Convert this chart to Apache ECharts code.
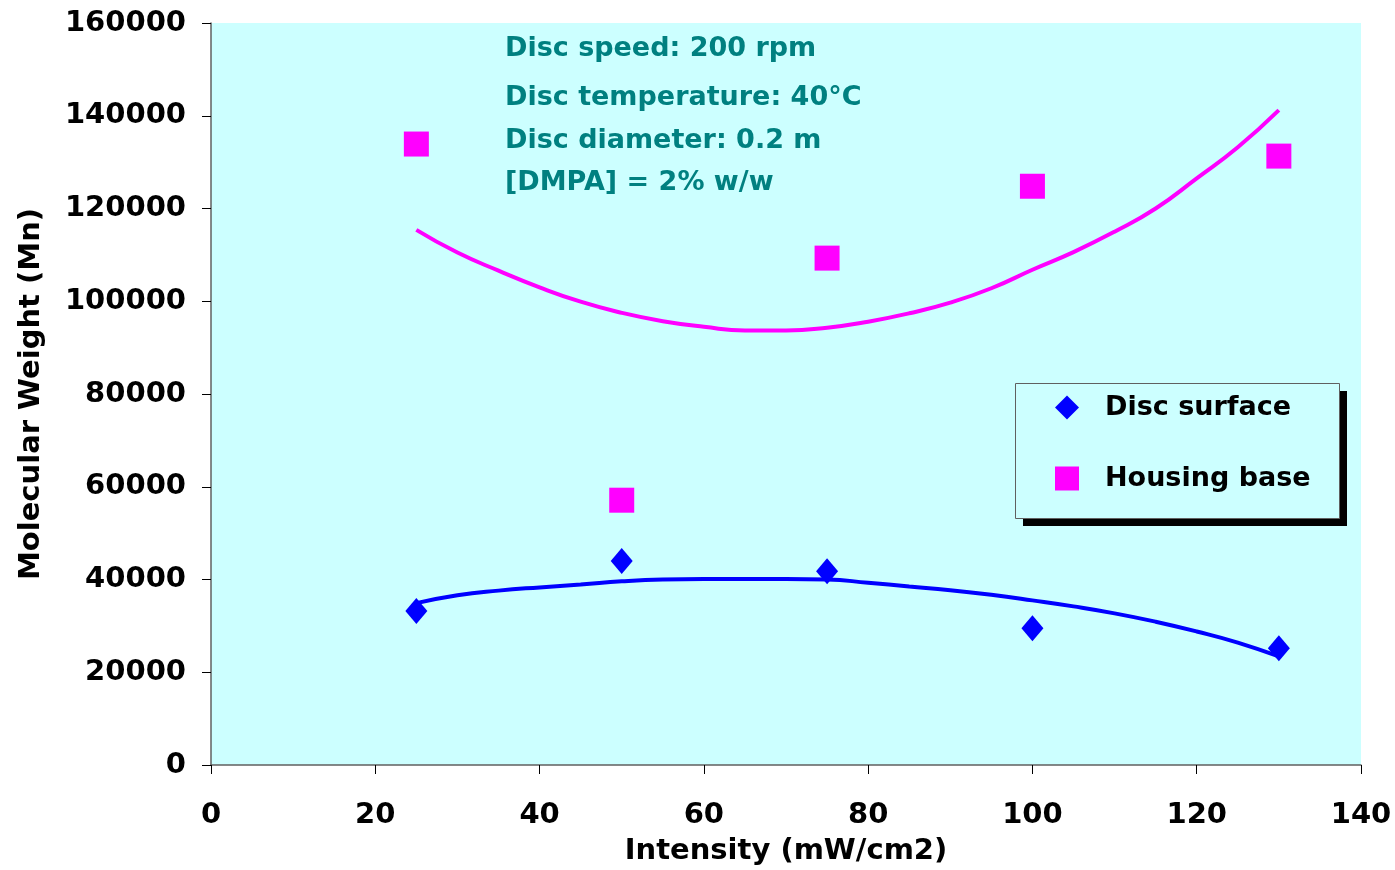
<!DOCTYPE html>
<html><head><meta charset="utf-8">
<script src="https://cdn.jsdelivr.net/npm/echarts@6/dist/echarts.min.js"></script>
<style>html,body{margin:0;padding:0;background:#fff}#c{width:1395px;height:870px}</style>
</head><body><div id="c"></div>
<script>
const intensity = [25, 50, 75, 100, 130];
const discSurface = [33200, 44000, 41800, 29500, 25200];
const housingBase = [133900, 57100, 109300, 124800, 131300];

const trendX = [25,30,35,40,45,50,55,60,65,70,75,80,85,90,95,100,105,110,115,120,125,130];
const discTrend = [34900,36600,37600,38300,38900,39600,40000,40100,40100,40100,40000,39300,38500,37700,36700,35500,34200,32700,30900,28800,26400,23400];
const housingTrend = [115400,110500,106600,103000,99900,97500,95700,94500,93700,93700,94300,95600,97400,99700,102800,106800,110600,115000,120000,126500,133200,141200];

const xTicks = [0,20,40,60,80,100,120,140];
const yTicks = [0,20000,40000,60000,80000,100000,120000,140000,160000];
const notes = ['Disc speed: 200 rpm','Disc temperature: 40\u00B0C','Disc diameter: 0.2 m','[DMPA] = 2% w/w'];

const pair = (xs, ys) => xs.map((x,i)=>[x, ys[i]]);
const font = '"DejaVu Sans", sans-serif';
const chart = echarts.init(document.getElementById('c'));
const noteY = [47, 96, 139, 181];
chart.setOption({
  animation: false,
  backgroundColor: '#fff',
  grid: {left: 211, right: 34, top: 23, bottom: 105, show: true, backgroundColor: '#CCFFFF', borderWidth: 0,
         containLabel: false, outerBoundsMode: 'none'},
  xAxis: {
    type: 'value', min: xTicks[0], max: xTicks[xTicks.length-1], interval: 20,
    name: 'Intensity (mW/cm2)', nameLocation: 'middle', nameGap: 72,
    nameTextStyle: {fontFamily: font, fontWeight: 'bold', fontSize: 29, color: '#000'},
    axisLine: {lineStyle: {color: '#606060', width: 1.5}},
    axisTick: {length: 9, lineStyle: {color: '#000'}},
    axisLabel: {fontFamily: font, fontWeight: 'bold', fontSize: 29, color: '#000', margin: 36,
                formatter: v => String(v)},
    splitLine: {show: false}
  },
  yAxis: {
    type: 'value', min: yTicks[0], max: yTicks[yTicks.length-1], interval: 20000,
    name: 'Molecular Weight (Mn)', nameLocation: 'middle', nameGap: 165,
    nameTextStyle: {fontFamily: font, fontWeight: 'bold', fontSize: 29, color: '#000'},
    axisLine: {show: true, lineStyle: {color: '#606060', width: 1.5}},
    axisTick: {show: true, length: 9, lineStyle: {color: '#000'}},
    axisLabel: {fontFamily: font, fontWeight: 'bold', fontSize: 29, color: '#000', margin: 25,
                formatter: v => String(v)},
    splitLine: {show: false}
  },
  legend: {
    orient: 'vertical', left: 1055, top: 394, z: 20,
    padding: 0, itemGap: 44, itemWidth: 24, itemHeight: 24,
    textStyle: {fontFamily: font, fontWeight: 'bold', fontSize: 27, color: '#000', padding: [0,0,0,21]},
    data: [
      {name: 'Disc surface', icon: 'diamond'},
      {name: 'Housing base', icon: 'rect'}
    ]
  },
  graphic: [
    {type: 'rect', left: 1023, top: 391, z: 10, shape: {width: 324, height: 135}, style: {fill: '#000'}},
    {type: 'rect', left: 1015, top: 383, z: 11, shape: {width: 324, height: 135}, style: {fill: '#CCFFFF', stroke: '#606060', lineWidth: 1}}
  ].concat(notes.map((t,i)=>({
    type: 'text', left: 505, top: noteY[i] - 12, z: 100,
    style: {text: t, fontFamily: font, fontWeight: 'bold', fontSize: 27, fill: '#008080'}
  }))),
  series: [
    {name: 'Disc trend', type: 'line', data: pair(trendX, discTrend), smooth: true, showSymbol: false,
     lineStyle: {color: '#0000FF', width: 4}, itemStyle: {color: '#0000FF'}, silent: true, z: 2},
    {name: 'Housing trend', type: 'line', data: pair(trendX, housingTrend), smooth: true, showSymbol: false,
     lineStyle: {color: '#FF00FF', width: 4}, itemStyle: {color: '#FF00FF'}, silent: true, z: 2},
    {name: 'Disc surface', type: 'scatter', data: pair(intensity, discSurface), symbol: 'diamond', symbolSize: [22, 26],
     itemStyle: {color: '#0000FF', opacity: 1}, z: 3},
    {name: 'Housing base', type: 'scatter', data: pair(intensity, housingBase), symbol: 'rect', symbolSize: 25,
     itemStyle: {color: '#FF00FF', opacity: 1}, z: 3}
  ]
});
</script></body></html>
